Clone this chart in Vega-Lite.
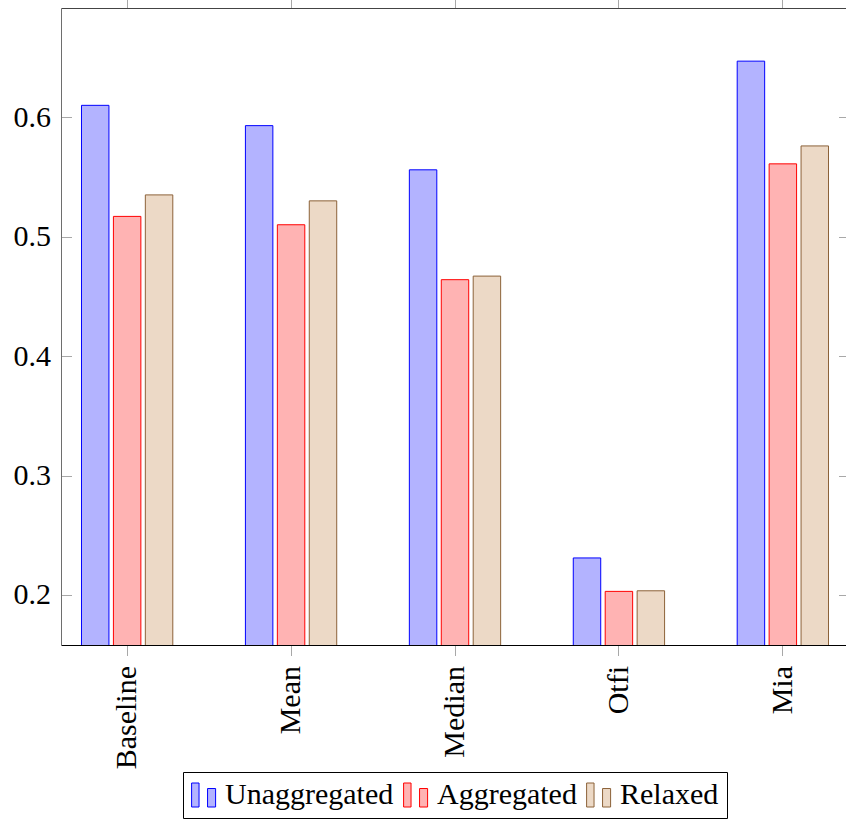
{
  "$schema": "https://vega.github.io/schema/vega-lite/v6.json",
  "width": 788,
  "height": 637,
  "autosize": {"type": "none"},
  "padding": {"left": 61, "top": 8, "right": 0, "bottom": 174},
  "config": {
    "view": {"stroke": null},
    "font": "'Liberation Serif', 'Times New Roman', 'DejaVu Serif', serif",
    "axis": {
      "labelFont": "'Liberation Serif', 'Times New Roman', 'DejaVu Serif', serif",
      "labelFontSize": 30,
      "labelColor": "#000000",
      "grid": false,
      "title": null,
      "tickColor": "#a8a8a8",
      "tickWidth": 1,
      "labelLimit": 0
    },
    "legend": {
      "labelFont": "'Liberation Serif', 'Times New Roman', 'DejaVu Serif', serif",
      "labelFontSize": 30,
      "labelColor": "#000000",
      "labelLimit": 0
    }
  },
  "data": {
    "values": [
      {"category": "Baseline", "method": "Unaggregated", "value": 0.610},
      {"category": "Baseline", "method": "Aggregated", "value": 0.517},
      {"category": "Baseline", "method": "Relaxed", "value": 0.535},
      {"category": "Mean", "method": "Unaggregated", "value": 0.593},
      {"category": "Mean", "method": "Aggregated", "value": 0.510},
      {"category": "Mean", "method": "Relaxed", "value": 0.530},
      {"category": "Median", "method": "Unaggregated", "value": 0.556},
      {"category": "Median", "method": "Aggregated", "value": 0.464},
      {"category": "Median", "method": "Relaxed", "value": 0.467},
      {"category": "Otfi", "method": "Unaggregated", "value": 0.231},
      {"category": "Otfi", "method": "Aggregated", "value": 0.203},
      {"category": "Otfi", "method": "Relaxed", "value": 0.2035},
      {"category": "Mia", "method": "Unaggregated", "value": 0.647},
      {"category": "Mia", "method": "Aggregated", "value": 0.561},
      {"category": "Mia", "method": "Relaxed", "value": 0.576}
    ]
  },
  "resolve": {"axis": {"x": "independent", "y": "independent"}},
  "layer": [
    {
      "mark": {"type": "bar", "strokeWidth": 1, "clip": true},
      "encoding": {
        "x": {
          "field": "category",
          "type": "nominal",
          "sort": ["Baseline", "Mean", "Median", "Otfi", "Mia"],
          "scale": {"paddingInner": 0.443, "paddingOuter": 0.125},
          "axis": {
            "orient": "bottom",
            "labelAngle": -90,
            "tickSize": 10.5,
            "labelPadding": 10,
            "domainColor": "#000000"
          }
        },
        "xOffset": {
          "field": "method",
          "type": "nominal",
          "sort": ["Unaggregated", "Aggregated", "Relaxed"],
          "scale": {"paddingInner": 0.14, "paddingOuter": 0}
        },
        "y": {
          "field": "value",
          "type": "quantitative",
          "scale": {"domain": [0.1581, 0.6915], "zero": false, "nice": false},
          "axis": {
            "orient": "left",
            "values": [0.2, 0.3, 0.4, 0.5, 0.6],
            "format": ".1f",
            "tickSize": -10.5,
            "labelPadding": 21,
            "domainColor": "#6e6e6e"
          }
        },
        "fill": {
          "field": "method",
          "type": "nominal",
          "scale": {
            "domain": ["Unaggregated", "Aggregated", "Relaxed"],
            "range": ["#b3b3ff", "#ffb3b3", "#ecd9c6"]
          },
          "legend": {
            "title": null,
            "orient": "none",
            "legendX": 122,
            "legendY": 764,
            "direction": "horizontal",
            "columns": 3,
            "symbolType": "M-1.2,-1L-0.58,-1L-0.58,1L-1.2,1Z M0.13,-0.54L0.8,-0.54L0.8,1L0.13,1Z",
            "symbolSize": 576,
            "symbolStrokeWidth": 1,
            "labelOffset": 4,
            "columnPadding": 7,
            "padding": 8,
            "strokeColor": "#000000",
            "cornerRadius": 0
          }
        },
        "stroke": {
          "field": "method",
          "type": "nominal",
          "scale": {
            "domain": ["Unaggregated", "Aggregated", "Relaxed"],
            "range": ["#0000ff", "#ff0000", "#8c6239"]
          },
          "legend": {
            "title": null,
            "orient": "none",
            "legendX": 122,
            "legendY": 764,
            "direction": "horizontal",
            "columns": 3,
            "symbolType": "M-1.2,-1L-0.58,-1L-0.58,1L-1.2,1Z M0.13,-0.54L0.8,-0.54L0.8,1L0.13,1Z",
            "symbolSize": 576,
            "symbolStrokeWidth": 1,
            "labelOffset": 4,
            "columnPadding": 7,
            "padding": 8,
            "strokeColor": "#000000",
            "cornerRadius": 0
          }
        }
      }
    },
    {
      "mark": {"type": "bar", "opacity": 0, "clip": true},
      "encoding": {
        "x": {
          "field": "category",
          "type": "nominal",
          "sort": ["Baseline", "Mean", "Median", "Otfi", "Mia"],
          "axis": {
            "orient": "top",
            "labels": false,
            "tickSize": 10.5,
            "domainColor": "#444444"
          }
        },
        "xOffset": {
          "field": "method",
          "type": "nominal",
          "sort": ["Unaggregated", "Aggregated", "Relaxed"]
        },
        "y": {
          "field": "value",
          "type": "quantitative",
          "axis": {
            "orient": "right",
            "labels": false,
            "values": [0.2, 0.3, 0.4, 0.5, 0.6],
            "tickSize": -10.5,
            "domainColor": "#444444"
          }
        }
      }
    }
  ]
}
